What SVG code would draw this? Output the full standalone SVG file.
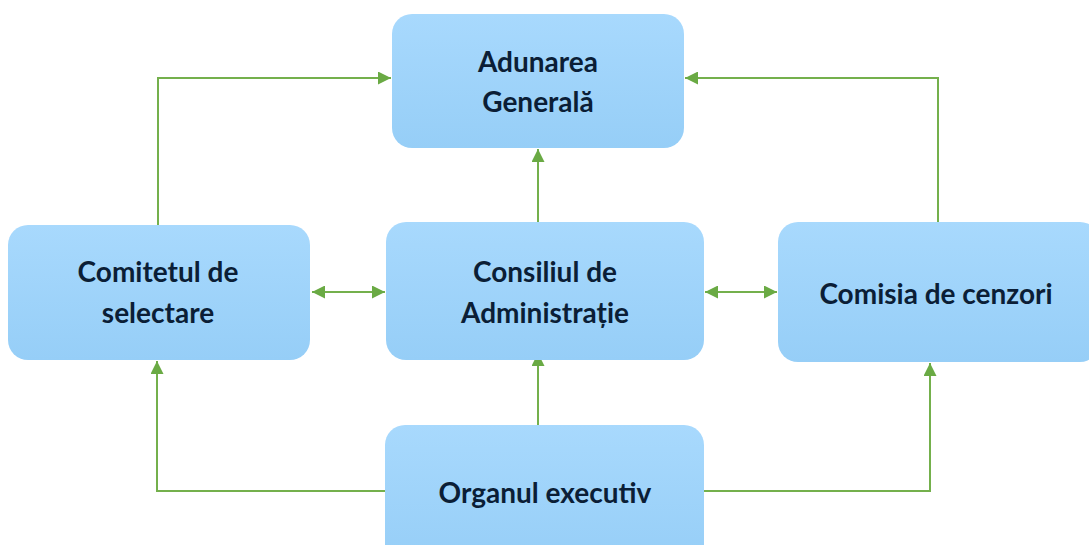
<svg xmlns="http://www.w3.org/2000/svg" width="1089" height="545" viewBox="0 0 1089 545">
<style>
.box{fill:url(#g);stroke:none}
.t{font-family:Lato,"Open Sans","Liberation Sans",sans-serif;font-weight:bold;font-size:28px;fill:#0b1e36;text-anchor:middle}
.c{fill:none;stroke:#74b04c;stroke-width:2}
</style>
<defs>
<linearGradient id="g" x1="0" y1="0" x2="0" y2="1">
<stop offset="0" stop-color="#a8d9fd"/>
<stop offset="1" stop-color="#96cef7"/>
</linearGradient>
<marker id="a" viewBox="0 0 10 10" refX="10" refY="5" markerWidth="6.5" markerHeight="6.5" orient="auto-start-reverse" markerUnits="strokeWidth">
<path d="M0,0 L10,5 L0,10 z" fill="#6aaa44"/>
</marker>
</defs>
<rect width="1089" height="545" fill="#ffffff"/>
<g id="connectors">
<path class="c" d="M158,225 V78 H391" marker-end="url(#a)"/>
<path class="c" d="M938,222 V78 H685" marker-end="url(#a)"/>
<path class="c" d="M538,222 V149" marker-end="url(#a)"/>
<path class="c" d="M312,292 H385" marker-start="url(#a)" marker-end="url(#a)"/>
<path class="c" d="M705,292 H777" marker-start="url(#a)" marker-end="url(#a)"/>
<path class="c" d="M538,432 V353" marker-end="url(#a)"/>
<path class="c" d="M386,491 H157 V361" marker-end="url(#a)"/>
<path class="c" d="M704,491 H930 V363" marker-end="url(#a)"/>
</g>
<g id="adunarea">
<rect class="box" x="392" y="14" width="292" height="134" rx="20"/>
<text class="t" x="538" y="72">Adunarea</text>
<text class="t" x="538" y="112">Generală</text>
</g>
<g id="comitetul">
<rect class="box" x="8" y="225" width="302" height="135" rx="20"/>
<text class="t" x="158" y="282">Comitetul de</text>
<text class="t" x="158" y="323">selectare</text>
</g>
<g id="consiliul">
<rect class="box" x="386" y="222" width="318" height="138" rx="20"/>
<text class="t" x="545" y="282">Consiliul de</text>
<text class="t" x="545" y="323">Administrație</text>
</g>
<g id="comisia">
<rect class="box" x="778" y="222" width="322" height="140" rx="20"/>
<text class="t" x="936" y="304">Comisia de cenzori</text>
</g>
<g id="organul">
<rect class="box" x="385" y="425" width="319" height="140" rx="20"/>
<text class="t" x="545" y="503">Organul executiv</text>
</g>
</svg>
